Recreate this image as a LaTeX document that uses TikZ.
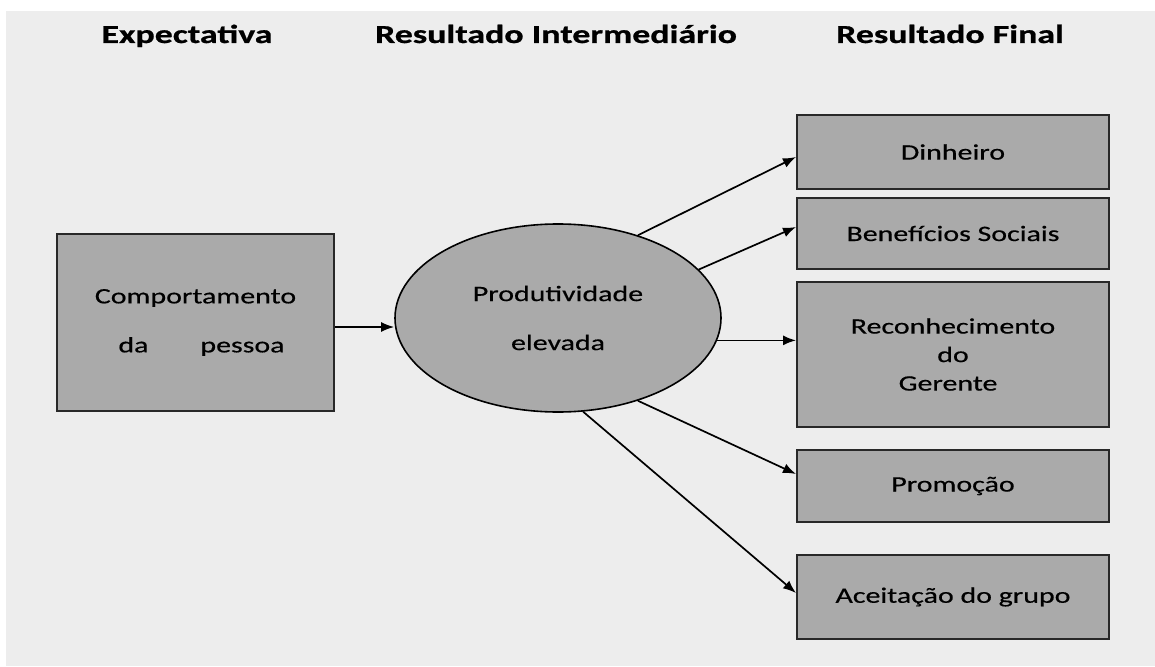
\documentclass[tikz,border=0pt]{standalone}
\usepackage{fontspec}
\usetikzlibrary{arrows.meta,shapes.geometric,calc}
\newfontfamily\headfont{Carlito}[FakeStretch=1.38, BoldFeatures={FakeBold=0.8}]
\newfontfamily\bodyfont{Carlito}[FakeStretch=1.36, FakeBold=0.5]
\definecolor{bg}{RGB}{237,237,237}
\definecolor{boxfill}{RGB}{170,170,170}
\definecolor{boxline}{RGB}{40,40,40}
\tikzset{
  heading/.style={anchor=base, font=\headfont\bfseries\fontsize{26}{30}\selectfont, inner sep=0pt},
  gbox/.style={draw=boxline, line width=2pt, fill=boxfill, rectangle, inner sep=0pt,
    align=center, font=\bodyfont\fontsize{22}{28.5}\selectfont},
  gell/.style={draw=black, line width=1.6pt, fill=boxfill, ellipse, inner sep=0pt,
    align=center, font=\bodyfont\fontsize{22}{49}\selectfont},
  arr/.style={draw=black, line width=1.7pt, -{Latex[length=13pt,width=10pt]}}
}
\begin{document}
\begin{tikzpicture}[x=1pt,y=-1pt]
\useasboundingbox (0,0) rectangle (1155,666);
\fill[white] (0,0) rectangle (1155,666);
\fill[bg] (6,11) rectangle (1155,666);

\node[heading] (h1) at (187,43) {Expectativa};
\node[heading] (h2) at (556,43) {Resultado Intermediário};
\node[heading] (h3) at (950,43) {Resultado Final};

\node[gbox, minimum width=277pt, minimum height=177pt, font=\bodyfont\fontsize{22}{49}\selectfont] (lb) at (195.5,322.5)
  {Comportamento\\\hspace*{12pt}da\hspace{52pt}pessoa};
\node[gell, minimum width=326pt, minimum height=188pt] (ell) at (558,318) {Produtividade\\elevada};

\node[gbox, minimum width=312pt, minimum height=74pt] (din) at (953,152) {Dinheiro};
\node[gbox, minimum width=312pt, minimum height=71pt] (ben) at (953,233.5) {Benefícios Sociais};
\node[gbox, minimum width=312pt, minimum height=145pt] (rec) at (953,354.5) {Reconhecimento\\do\\\hspace*{-10pt}Gerente};
\node[gbox, minimum width=312pt, minimum height=72pt] (pro) at (953,486) {\raisebox{3pt}{Promoção}};
\node[gbox, minimum width=312pt, minimum height=84pt] (ace) at (953,597) {\raisebox{3pt}{Aceitação do grupo}};

\coordinate (a0) at ([yshift=-4.5pt]lb.east);
\draw[arr] (a0) -- (a0 -| ell.west);
\draw[arr] (ell.46.7) -- ([yshift=-5pt]din.west);
\draw[arr] (ell.19) -- ([yshift=6.5pt]ben.west);
\draw[arr] (ell.-8.7) -- (ell.-8.7 -| rec.west);
\draw[arr] (ell.-46.4) -- ([yshift=12pt]pro.west);
\draw[arr] (ell.-75.5) -- ([yshift=4pt]ace.west);
\end{tikzpicture}
\end{document}
